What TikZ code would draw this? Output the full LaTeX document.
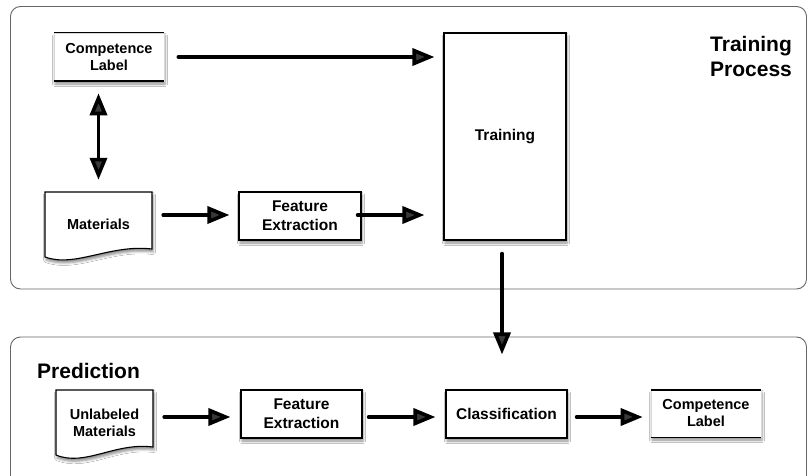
\documentclass[tikz,border=0pt]{standalone}
\usepackage{fontspec}
\setmainfont{Liberation Sans}
\usetikzlibrary{arrows.meta,shadows.blur,calc}

\tikzset{
  x=1pt, y=-1pt,
  panel/.style={draw=black!60, line width=0.9pt, rounded corners=10pt},
  boxshadow/.style={blur shadow={shadow xshift=1pt, shadow yshift=-3pt,
      shadow blur radius=2.5pt, shadow opacity=45}},
  procbox/.style={draw=black, line width=1.1pt, fill=white, boxshadow,
      inner sep=0pt, align=center, font=\bfseries\fontsize{15.5}{19}\selectfont},
  labelbox/.style={draw=black!15, line width=0.6pt, fill=white, boxshadow,
      inner sep=0pt, align=center, font=\bfseries\fontsize{14.5}{17}\selectfont},
  doctext/.style={inner sep=0pt, align=center, font=\bfseries\fontsize{14.5}{17}\selectfont},
  docshape/.style={draw=black, line width=1.1pt, fill=white, boxshadow},
  heading/.style={inner sep=0pt, anchor=base west, align=left,
      font=\bfseries\fontsize{21}{25}\selectfont},
  arr/.style={line width=3.6pt, line cap=round,
      -{Triangle[length=22pt,width=17pt]}},
  dblarr/.style={line width=3.6pt,
      {Triangle[length=22pt,width=17pt]}-{Triangle[length=22pt,width=17pt]}},
}

\begin{document}
\begin{tikzpicture}
\useasboundingbox (0,0) rectangle (808,476);
\fill[white] (0,0) rectangle (808,476);

% the two stages
\draw[panel] (10.5,6.5) rectangle (806.5,289);
\draw[panel] (10.5,337) rectangle (806.5,490);

% the base anchor of a two-line node sits on its last line
\node[heading] (thead) at (710,77) {Training\\Process};
\node[heading] (phead) at (37,378) {Prediction};

% ---- training stage ----
\node[labelbox, minimum width=110pt, minimum height=48pt] (cl1) at (109,57)
  {Competence\\Label};
\draw[line width=1.6pt] (cl1.north west) -- (cl1.north east);
\draw[line width=1.6pt] (cl1.south west) -- (cl1.south east);

\draw[docshape] (45,192) -- (152,192) -- (152,249)
  .. controls (110,244) and (75,268) .. (45,257) -- cycle;
\node[doctext, minimum width=107pt, minimum height=65pt] (mat) at (98.5,224.5)
  {Materials};

\node[procbox, minimum width=122pt, minimum height=48pt] (fe1) at (300,216)
  {Feature\\Extraction};

\node[procbox, minimum width=122pt, minimum height=207pt] (train) at (505,136.5)
  {Training};

% ---- prediction stage ----
\draw[docshape] (56,390) -- (153,390) -- (153,447)
  .. controls (115,442) and (85,467) .. (56,455) -- cycle;
\node[doctext, minimum width=97pt, minimum height=65pt] (um) at (104.5,422.5)
  {Unlabeled\\Materials};

\node[procbox, minimum width=121pt, minimum height=48pt] (fe2) at (301.5,414)
  {Feature\\Extraction};

\node[procbox, minimum width=121pt, minimum height=48pt] (cls) at (506.5,414)
  {Classification};

\node[labelbox, minimum width=110pt, minimum height=47pt] (cl2) at (706,413.5)
  {Competence\\Label};
\draw[line width=1.6pt] (cl2.north west) -- (cl2.north east);
\draw[line width=1.6pt] (cl2.south west) -- (cl2.south east);

% ---- connectors ----
\coordinate (rowA) at (0,215);
\coordinate (rowB) at (0,417);
\coordinate (colT) at (502,0);

\draw[arr] ([xshift=14pt]cl1.east) -- ([xshift=-9pt]train.west |- cl1.east);
\draw[dblarr] ([yshift=-12pt]cl1.south -| mat.north)
  -- ([yshift=12pt]mat.north);
\draw[arr] ([xshift=11pt]mat.east |- rowA) -- ([xshift=-9pt]fe1.west |- rowA);
\draw[arr] ([xshift=-4pt]fe1.east |- rowA) -- ([xshift=-19pt]train.west |- rowA);
\draw[arr] ([yshift=-13pt]train.south -| colT) -- ([yshift=35pt]cls.north -| colT);

\draw[arr] ([xshift=11pt]um.east |- rowB) -- ([xshift=-10pt]fe2.west |- rowB);
\draw[arr] ([xshift=6pt]fe2.east |- rowB) -- ([xshift=-10pt]cls.west |- rowB);
\draw[arr] ([xshift=9pt]cls.east |- rowB) -- ([xshift=-8pt]cl2.west |- rowB);
\end{tikzpicture}
\end{document}
